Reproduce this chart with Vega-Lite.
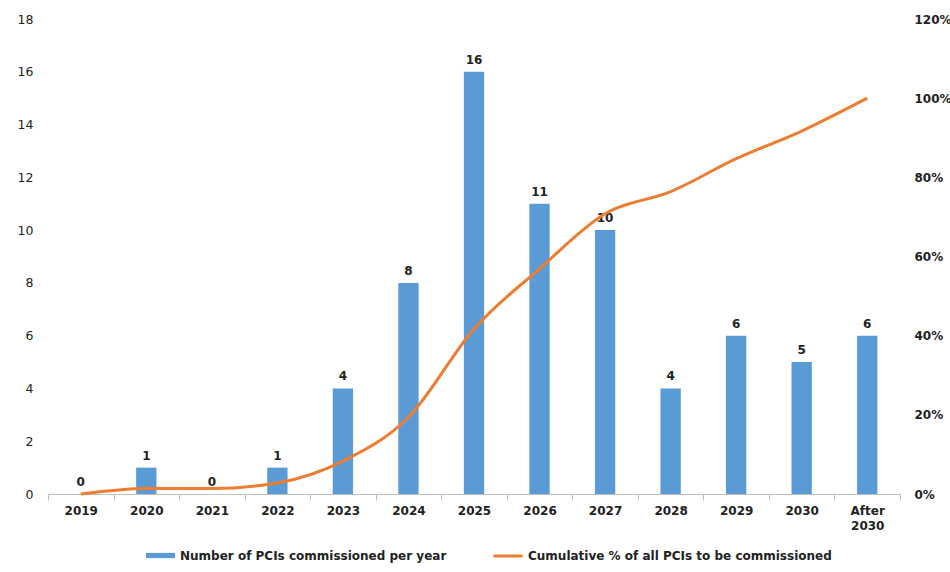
{
  "$schema": "https://vega.github.io/schema/vega-lite/v6.json",
  "width": 852,
  "height": 475,
  "autosize": "none",
  "padding": {"left": 48, "top": 19, "right": 50, "bottom": 78},
  "background": "white",
  "config": {
    "view": {"stroke": null},
    "font": "DejaVu Sans",
    "axis": {"grid": false},
    "legend": {
      "title": null,
      "orient": "none",
      "direction": "horizontal",
      "labelFontSize": 12,
      "labelFontWeight": "bold",
      "labelColor": "#222",
      "labelLimit": 400,
      "labelOffset": 4,
      "symbolSize": 841
    }
  },
  "data": {
    "values": [
      {"year": "2019", "count": 0, "cumulative": 0},
      {"year": "2020", "count": 1, "cumulative": 0.014},
      {"year": "2021", "count": 0, "cumulative": 0.014},
      {"year": "2022", "count": 1, "cumulative": 0.028},
      {"year": "2023", "count": 4, "cumulative": 0.083},
      {"year": "2024", "count": 8, "cumulative": 0.194},
      {"year": "2025", "count": 16, "cumulative": 0.417},
      {"year": "2026", "count": 11, "cumulative": 0.569},
      {"year": "2027", "count": 10, "cumulative": 0.708},
      {"year": "2028", "count": 4, "cumulative": 0.764},
      {"year": "2029", "count": 6, "cumulative": 0.847},
      {"year": "2030", "count": 5, "cumulative": 0.917},
      {"year": "After 2030", "count": 6, "cumulative": 1.0}
    ]
  },
  "encoding": {
    "x": {
      "field": "year",
      "type": "ordinal",
      "sort": null,
      "scale": {"paddingInner": 0, "paddingOuter": 0},
      "axis": {
        "title": null,
        "labelAngle": 0,
        "domainColor": "#bfbfbf",
        "tickColor": "#bfbfbf",
        "tickSize": 6,
        "tickBand": "extent",
        "labelFontWeight": "bold",
        "labelFontSize": 12,
        "labelPadding": 5,
        "labelColor": "#222",
        "labelLineHeight": 15,
        "labelExpr": "split(datum.label, ' ')"
      }
    }
  },
  "layer": [
    {
      "encoding": {
        "y": {
          "field": "count",
          "type": "quantitative",
          "scale": {"domain": [0, 18]},
          "axis": {
            "title": null,
            "values": [0, 2, 4, 6, 8, 10, 12, 14, 16, 18],
            "domain": false,
            "ticks": false,
            "labelPadding": 15,
            "labelFontSize": 12.5,
            "labelColor": "#222"
          }
        }
      },
      "layer": [
        {
          "mark": {"type": "bar", "width": {"band": 0.31}},
          "encoding": {
            "fill": {
              "datum": "Number of PCIs commissioned per year",
              "scale": {"range": ["#5B9BD5"]},
              "legend": {
                "legendX": 97,
                "legendY": 521,
                "symbolType": "M-1,-0.18H1V0.18H-1Z"
              }
            }
          }
        },
        {
          "mark": {"type": "text", "dy": -12, "fontWeight": "bold", "fontSize": 12, "color": "#222"},
          "encoding": {
            "text": {"field": "count", "type": "quantitative"}
          }
        }
      ]
    },
    {
      "mark": {"type": "line", "interpolate": "monotone", "strokeWidth": 3},
      "encoding": {
        "y": {
          "field": "cumulative",
          "type": "quantitative",
          "scale": {"domain": [0, 1.2]},
          "axis": {
            "orient": "right",
            "title": null,
            "format": ".0%",
            "values": [0, 0.2, 0.4, 0.6, 0.8, 1.0, 1.2],
            "domain": false,
            "ticks": false,
            "labelPadding": 14,
            "labelFontSize": 12,
            "labelFontWeight": "bold",
            "labelColor": "#222"
          }
        },
        "stroke": {
          "datum": "Cumulative % of all PCIs to be commissioned",
          "scale": {"range": ["#ED7D31"]},
          "legend": {
            "legendX": 444,
            "legendY": 521,
            "symbolType": "stroke",
            "symbolStrokeWidth": 3
          }
        }
      }
    }
  ],
  "resolve": {"scale": {"y": "independent"}}
}
